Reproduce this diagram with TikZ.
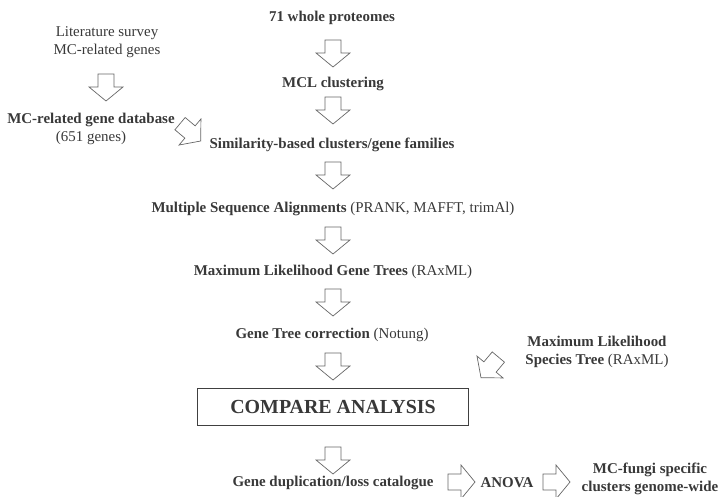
\documentclass[tikz,border=0pt]{standalone}
\usepackage{fontspec}
\setmainfont{Liberation Serif}

\begin{document}
\begin{tikzpicture}[x=1bp,y=-1bp,
	txt/.style={text=black!78,font=\fontsize{15}{18}\selectfont,align=center,inner sep=0pt},
	blockarrow/.pic={\draw[black!60,line width=0.7pt,fill=white] (-8,-13) -- (8,-13) -- (8,0) -- (17,0) -- (0,14) -- (-17,0) -- (-8,0) -- cycle;}]
		\useasboundingbox (0,0) rectangle (723,497);
		\node[txt] (lit) at (107,42) {Literature survey\\MC-related genes};
		\node[txt] (mcdb) at (91,129) {\textbf{MC-related gene database}\\(651 genes)};
		\node[txt] (prot) at (332,18) {\textbf{71 whole proteomes}};
		\node[txt] (mcl) at (333,84) {\textbf{MCL clustering}};
		\node[txt] (sim) at (332,145) {\textbf{Similarity-based clusters/gene families}};
		\node[txt] (msa) at (333,209) {\textbf{Multiple Sequence Alignments} (PRANK, MAFFT, trimAl)};
		\node[txt] (mlgt) at (333,272) {\textbf{Maximum Likelihood Gene Trees} (RAxML)};
		\node[txt] (gtc) at (332,335) {\textbf{Gene Tree correction} (Notung)};
		\node[txt] (mlst) at (597,352) {\textbf{Maximum Likelihood}\\\textbf{Species Tree} (RAxML)};
		\node[txt,draw=black!75,line width=0.8pt,minimum width=271bp,minimum height=37bp,font=\fontsize{20}{24}\selectfont\bfseries] (compare) at (333,407) {COMPARE ANALYSIS};
		\node[txt] (gdc) at (333,483) {\textbf{Gene duplication/loss catalogue}};
		\node[txt] (anova) at (507,483) {\textbf{ANOVA}};
		\node[txt] (fungi) at (650,479) {\textbf{MC-fungi specific}\\\textbf{clusters genome-wide}};
		\pic at (106,87) {blockarrow};
		\pic[rotate=50] at (190,132) {blockarrow};
		\pic at (333,53) {blockarrow};
		\pic at (333,110) {blockarrow};
		\pic at (333,175) {blockarrow};
		\pic at (333,240) {blockarrow};
		\pic at (333,302) {blockarrow};
		\pic at (333,366) {blockarrow};
		\pic[rotate=-40] at (490,367) {blockarrow};
		\pic at (333,460) {blockarrow};
		\pic[rotate=90] at (461,482) {blockarrow};
		\pic[rotate=90] at (556,482) {blockarrow};
	\end{tikzpicture}
\end{document}
